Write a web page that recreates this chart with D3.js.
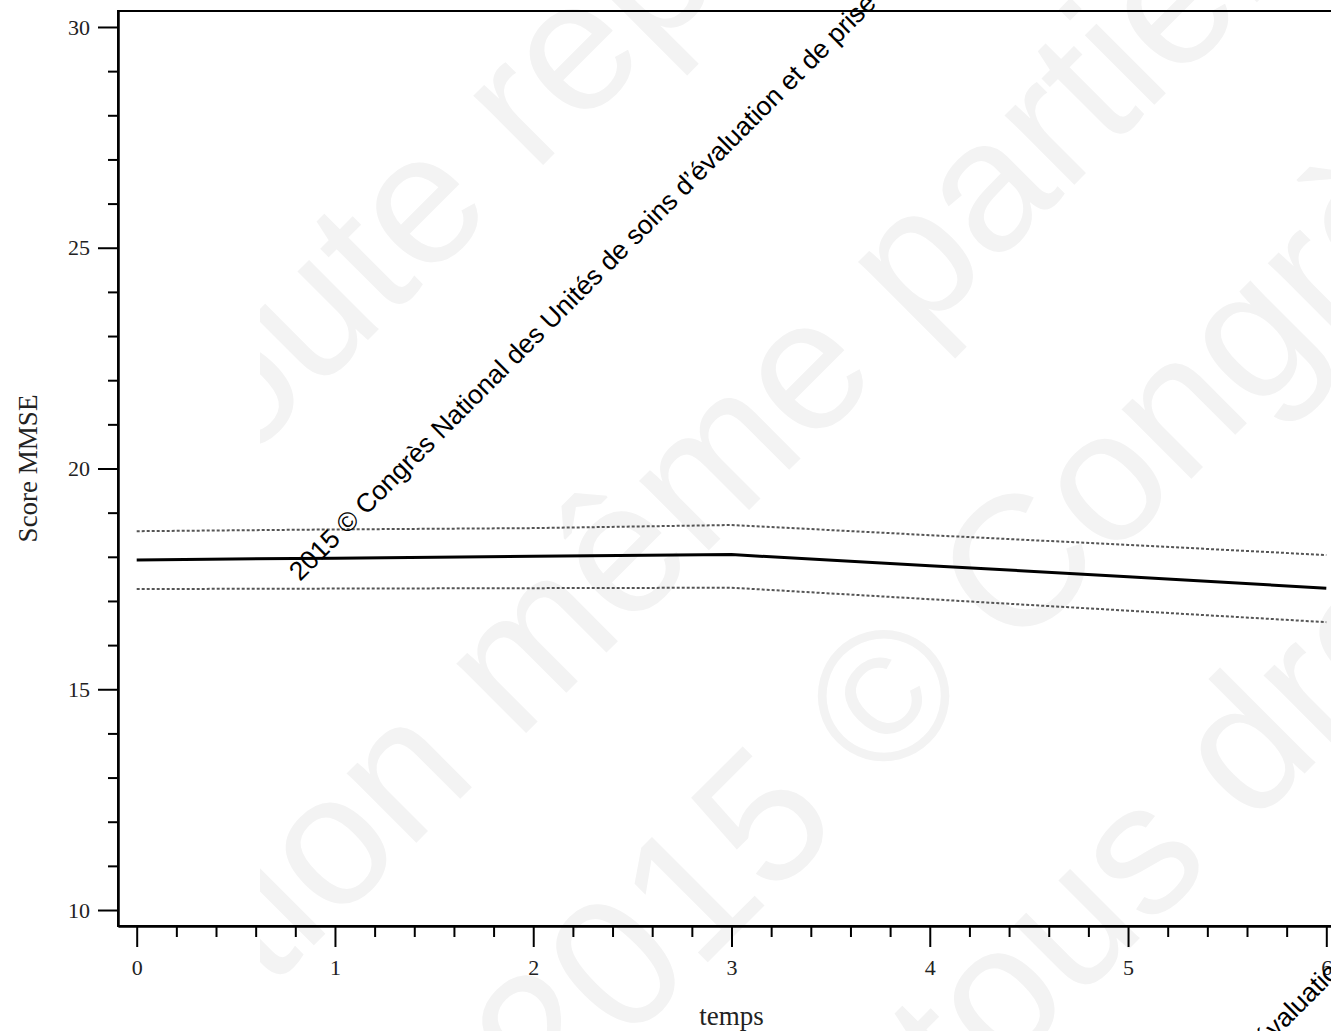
<!DOCTYPE html>
<meta charset="utf-8">
<script src="https://d3js.org/d3.v7.min.js"></script>
<style>
  body { margin: 0; background: #fff; }
</style>
<div id="chart"></div>
<script>
// time points
var temps = [0, 1, 2, 3, 4, 5, 6];
// mean MMSE score and the two bounds of the band
var scoreMoyen = [17.93, 17.97, 18.01, 18.05, 17.80, 17.55, 17.29];
var borneHaute = [18.58, 18.62, 18.65, 18.72, 18.49, 18.27, 18.04];
var borneBasse = [17.27, 17.28, 17.29, 17.30, 17.04, 16.78, 16.52];
// ticks
var xTicks = [0, 1, 2, 3, 4, 5, 6];
var yTicks = [10, 15, 20, 25, 30];
var xMinor = d3.range(0, 31).filter(function(i) { return i % 5 !== 0; }).map(function(i) { return i / 5; });
var yMinor = d3.range(10, 31).filter(function(v) { return v % 5 !== 0; });
// watermark texts
var petitTexte = "2015 © Congrès National des Unités de soins d’évaluation et de prise en charge Alzheimer";
var filigrane = [
  {avant: "Toute\u00a0", apres: "reproduction même partielle"},
  {avant: "Toute reproduction\u00a0", apres: "même partielle interdite"},
  {avant: "2015\u00a0©\u00a0", apres: "Congrès National"},
  {avant: "tous\u00a0", apres: "droits réservés"}
];

// layout
var W = 1331, H = 1031;
var filigranePos = [[534, 174], [517, 742], [1014, 656], [1251, 827]];
var petitPos = [[300, 582], [866, 1448]];

var svg = d3.select("#chart")
  .append("svg")
    .attr("width", W)
    .attr("height", H)
    .style("display", "block");

svg.append("rect").attr("width", W).attr("height", H).attr("fill", "#fff");

// big light watermark
svg.append("clipPath").attr("id", "clipWm")
  .append("rect").attr("x", 260).attr("y", 0).attr("width", W).attr("height", H);

var wm = svg.append("g").attr("clip-path", "url(#clipWm)")
  .style("font-family", "'Liberation Sans', Arial, sans-serif")
  .style("font-size", "186px")
  .attr("fill", "#f3f3f3");

filigrane.forEach(function(d, i) {
  var g = wm.append("g")
    .attr("transform", "translate(" + filigranePos[i][0] + "," + filigranePos[i][1] + ") rotate(-45)");
  g.append("text").attr("text-anchor", "end").text(d.avant);
  g.append("text").attr("text-anchor", "start").text(d.apres);
});

// scales
var x = d3.scaleLinear().domain([-0.0943, 6.0943]).range([118, 1345]);
var y = d3.scaleLinear().domain([9.638, 30.362]).range([926, 11]);

// frame
svg.append("rect")
  .attr("x", x.range()[0]).attr("y", y.range()[1])
  .attr("width", x.range()[1] - x.range()[0])
  .attr("height", y.range()[0] - y.range()[1])
  .attr("fill", "none").attr("stroke", "#000").attr("stroke-width", 2);

// Y axis
svg.append("g")
  .attr("transform", "translate(118,0)")
  .call(d3.axisLeft(y).tickValues(yTicks).tickSize(20).tickSizeOuter(0).tickPadding(8).tickFormat(d3.format("d")));
svg.append("g")
  .attr("transform", "translate(118,0)")
  .call(d3.axisLeft(y).tickValues(yMinor).tickSize(10).tickSizeOuter(0).tickFormat(""));

// X axis
svg.append("g")
  .attr("transform", "translate(0,926)")
  .call(d3.axisBottom(x).tickValues(xTicks).tickSize(21).tickSizeOuter(0).tickPadding(12).tickFormat(d3.format("d")));
svg.append("g")
  .attr("transform", "translate(0,926)")
  .call(d3.axisBottom(x).tickValues(xMinor).tickSize(11).tickSizeOuter(0).tickFormat(""));

svg.selectAll(".domain").attr("stroke-width", 2);
svg.selectAll(".tick line").attr("stroke-width", 2);
svg.selectAll(".tick text")
  .style("font-family", "'Liberation Serif', 'Times New Roman', serif")
  .style("font-size", "22px")
  .attr("fill", "#222");

// axis titles
svg.append("text")
  .attr("x", x(3)).attr("y", 1025)
  .attr("text-anchor", "middle")
  .style("font-family", "'Liberation Serif', 'Times New Roman', serif")
  .style("font-size", "27px")
  .attr("fill", "#222")
  .text("temps");

svg.append("text")
  .attr("transform", "translate(37," + y(20) + ") rotate(-90)")
  .attr("text-anchor", "middle")
  .style("font-family", "'Liberation Serif', 'Times New Roman', serif")
  .style("font-size", "27px")
  .attr("fill", "#222")
  .text("Score MMSE");

// curves
function serie(vals) {
  return temps.map(function(t, i) { return {t: t, v: vals[i]}; });
}
var line = d3.line()
  .x(function(d) { return x(d.t); })
  .y(function(d) { return y(d.v); });

[borneHaute, borneBasse].forEach(function(vals) {
  svg.append("path")
    .datum(serie(vals))
    .attr("d", line)
    .attr("fill", "none")
    .attr("stroke", "#555")
    .attr("stroke-width", 2)
    .attr("stroke-dasharray", "3,2");
});

svg.append("path")
  .datum(serie(scoreMoyen))
  .attr("d", line)
  .attr("fill", "none")
  .attr("stroke", "#000")
  .attr("stroke-width", 3);

// small black watermark
petitPos.forEach(function(p) {
  svg.append("text")
    .attr("transform", "translate(" + p[0] + "," + p[1] + ") rotate(-45)")
    .style("font-family", "'Liberation Sans', Arial, sans-serif")
    .style("font-size", "26.5px")
    .attr("fill", "#000")
    .text(petitTexte);
});
</script>
